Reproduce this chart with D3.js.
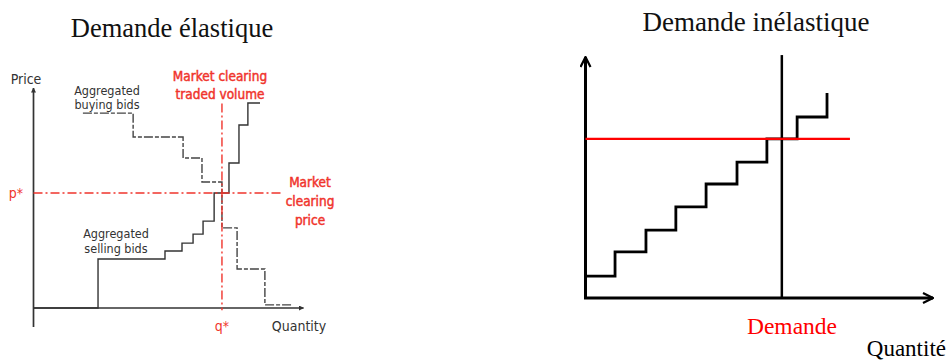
<!DOCTYPE html>
<html><head><meta charset="utf-8">
<script src="https://cdn.jsdelivr.net/npm/d3@7"></script>
<style>html,body{margin:0;padding:0;background:#fff;}svg{display:block;}</style>
</head><body>
<svg id="c" width="951" height="360"></svg>
<script>
// ---- Left chart: elastic demand (units 0-100) ----
const buyQty   = [18.3, 36.9, 55.4, 62.4, 69.8, 75.4, 85.7, 95.7];
const buyPrice = [88.6, 77.7, 68.2, 57.3, 36.4, 17.7, 1.4, 1.4];
const sellQty   = [0, 23.9, 48.7, 55.0, 59.1, 62.8, 66.9, 72.4, 76.1, 79.4, 83.9];
const sellPrice = [0, 22.3, 25.9, 29.5, 33.6, 39.5, 52.3, 65.9, 83.2, 93.2, 93.2];
const clearQty = 69.8, clearPrice = 52.3;
// ---- Right chart: inelastic demand (units 0-100) ----
const supplyQty   = [0, 8.5, 17.4, 26.0, 34.7, 43.6, 52.2, 60.9, 69.5];
const supplyPrice = [9.1, 19.1, 28.2, 37.8, 47.3, 56.4, 66.0, 75.1, 85.1];
const demandQty = 56.5, priceLevel = 66.0, priceLineEnd = 76.1;
// ---- Texts ----
const titles = ["Demande élastique", "Demande inélastique"];
const leftLabels = {price:"Price", qty:"Quantity", p:"p*", q:"q*",
  buy:["Aggregated","buying bids"], sell:["Aggregated","selling bids"],
  vol:["Market clearing","traded volume"], clr:["Market","clearing","price"]};
const rightLabels = {demand:"Demande", qty:"Quantité"};

const svg = d3.select("#c");
const RED = "#f0342c", GREY = "#333";
const defs = svg.append("defs");
defs.append("marker").attr("id","tri").attr("viewBox","0 0 10 10").attr("refX",9).attr("refY",5)
  .attr("markerWidth",5).attr("markerHeight",5).attr("orient","auto-start-reverse").attr("markerUnits","userSpaceOnUse")
  .append("path").attr("d","M0,0 L10,5 L0,10 z").attr("fill",GREY);
defs.append("marker").attr("id","chev").attr("viewBox","0 0 12 12").attr("refX",11).attr("refY",6)
  .attr("markerWidth",12).attr("markerHeight",12).attr("orient","auto-start-reverse").attr("markerUnits","userSpaceOnUse")
  .append("path").attr("d","M1,1 L11,6 L1,11").attr("fill","none").attr("stroke","#000").attr("stroke-width",2.2);

// ===== LEFT =====
const xL = d3.scaleLinear().domain([0,100]).range([33.5,303.5]);
const yL = d3.scaleLinear().domain([0,100]).range([308,88]);
const gL = svg.append("g");
gL.append("text").attr("x",172).attr("y",37).attr("text-anchor","middle")
  .attr("font-family","Liberation Serif").attr("font-size",26.5).attr("fill","#111").text(titles[0]);
// axes
gL.append("line").attr("x1",xL(0)).attr("x2",xL(0)).attr("y1",327).attr("y2",yL(100))
  .attr("stroke",GREY).attr("stroke-width",1.7).attr("marker-end","url(#tri)");
gL.append("line").attr("x1",xL(0)).attr("x2",xL(100)).attr("y1",yL(0)).attr("y2",yL(0))
  .attr("stroke",GREY).attr("stroke-width",1.7).attr("marker-end","url(#tri)");
const stepL = d3.line().x(d=>xL(d[0])).y(d=>yL(d[1])).curve(d3.curveStepAfter);
// buying bids
gL.append("path").attr("d",stepL(d3.zip(buyQty,buyPrice))).attr("fill","none")
  .attr("stroke","#444").attr("stroke-width",1.4).attr("stroke-dasharray","9,2,4,2");
// selling bids
gL.append("path").attr("d",stepL(d3.zip(sellQty,sellPrice))).attr("fill","none")
  .attr("stroke","#333").attr("stroke-width",1.4);
// clearing lines
gL.append("line").attr("x1",xL(0)).attr("x2",xL(92)).attr("y1",yL(clearPrice)).attr("y2",yL(clearPrice))
  .attr("stroke",RED).attr("stroke-width",1.4).attr("stroke-dasharray","9,3,2,3");
gL.append("line").attr("x1",xL(clearQty)).attr("x2",xL(clearQty)).attr("y1",yL(93)).attr("y2",yL(-1))
  .attr("stroke",RED).attr("stroke-width",1.4).attr("stroke-dasharray","9,3,2,3");
const sans = "DejaVu Sans Condensed";
function lbl(x,y,t,col,size,anchor,heavy){
  const s = gL.append("text").attr("x",x).attr("y",y).attr("text-anchor",anchor||"start")
    .attr("font-family",sans).attr("font-size",size).attr("fill",col).text(t);
  if (heavy) s.attr("stroke",col).attr("stroke-width",0.45);
}
lbl(26,84,leftLabels.price,"#333",14,"middle");
lbl(16,198,leftLabels.p,RED,14,"middle");
lbl(xL(clearQty),331,leftLabels.q,RED,14,"middle");
lbl(299,331,leftLabels.qty,"#333",14,"middle");
lbl(107,95,leftLabels.buy[0],"#333",12.5,"middle");
lbl(107,109,leftLabels.buy[1],"#333",12.5,"middle");
lbl(116,238,leftLabels.sell[0],"#333",12.5,"middle");
lbl(116,253,leftLabels.sell[1],"#333",12.5,"middle");
lbl(220,81,leftLabels.vol[0],RED,13.5,"middle",true);
lbl(220,99,leftLabels.vol[1],RED,13.5,"middle",true);
lbl(310,187,leftLabels.clr[0],RED,13.5,"middle",true);
lbl(310,206,leftLabels.clr[1],RED,13.5,"middle",true);
lbl(310,225,leftLabels.clr[2],RED,13.5,"middle",true);

// ===== RIGHT =====
const xR = d3.scaleLinear().domain([0,100]).range([585.5,933]);
const yR = d3.scaleLinear().domain([0,100]).range([298,57]);
const gR = svg.append("g");
gR.append("text").attr("x",756).attr("y",31).attr("text-anchor","middle")
  .attr("font-family","Liberation Serif").attr("font-size",27).attr("fill","#111").text(titles[1]);
gR.append("path").attr("d",`M${xR(0)},${yR(100)} L${xR(0)},${yR(0)} L${xR(100)},${yR(0)}`)
  .attr("fill","none").attr("stroke","#000").attr("stroke-width",3)
  .attr("marker-start","url(#chev)").attr("marker-end","url(#chev)");
gR.append("line").attr("x1",xR(demandQty)).attr("x2",xR(demandQty)).attr("y1",yR(100.8)).attr("y2",yR(0))
  .attr("stroke","#000").attr("stroke-width",2.5);
const stepR = d3.line().x(d=>xR(d[0])).y(d=>yR(d[1])).curve(d3.curveStepAfter);
gR.append("path").attr("d",stepR(d3.zip(supplyQty,supplyPrice))).attr("fill","none")
  .attr("stroke","#000").attr("stroke-width",2.8);
gR.append("line").attr("x1",xR(0)).attr("x2",xR(priceLineEnd)).attr("y1",yR(priceLevel)).attr("y2",yR(priceLevel))
  .attr("stroke","#ff0000").attr("stroke-width",2.2);
gR.append("text").attr("x",792).attr("y",334).attr("text-anchor","middle")
  .attr("font-family","Liberation Serif").attr("font-size",23.5).attr("fill","#ff0000").text(rightLabels.demand);
gR.append("text").attr("x",946).attr("y",356).attr("text-anchor","end")
  .attr("font-family","Liberation Serif").attr("font-size",23).attr("fill","#000").text(rightLabels.qty);
</script>
</body></html>
